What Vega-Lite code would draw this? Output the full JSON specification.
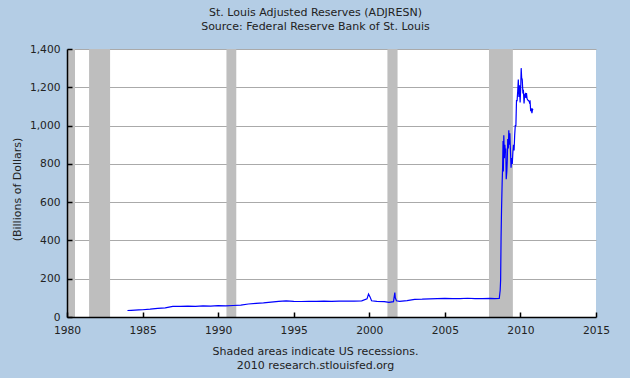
{
  "$schema": "https://vega.github.io/schema/vega-lite/v6.json",
  "width": 529,
  "height": 268,
  "autosize": {"type": "none"},
  "padding": {"left": 67, "top": 49, "right": 34, "bottom": 61},
  "background": "#B4CDE5",
  "config": {
    "view": {"fill": "white", "stroke": null},
    "font": "DejaVu Sans",
    "axis": {
      "labelFont": "DejaVu Sans",
      "labelFontSize": 10.7,
      "labelColor": "#222222",
      "titleFont": "DejaVu Sans",
      "titleFontSize": 11,
      "titleFontWeight": "normal",
      "titleColor": "#222222",
      "domainColor": "#000000",
      "domainWidth": 1.5,
      "tickColor": "#000000",
      "tickWidth": 1.5,
      "labelFlush": false
    }
  },
  "title": {
    "text": ["St. Louis Adjusted Reserves (ADJRESN)", "Source: Federal Reserve Bank of St. Louis"],
    "font": "DejaVu Sans",
    "fontSize": 11,
    "fontWeight": "normal",
    "color": "#222222",
    "lineHeight": 14,
    "anchor": "middle",
    "frame": "group",
    "dx": -16,
    "offset": 11
  },
  "datasets": {
    "recessions": [
      {"start": 1980.0, "end": 1980.53},
      {"start": 1981.46, "end": 1982.85},
      {"start": 1990.55, "end": 1991.2},
      {"start": 2001.2, "end": 2001.87},
      {"start": 2007.92, "end": 2009.5}
    ],
    "series": [
      {"year": 1984.0, "value": 34},
      {"year": 1984.25, "value": 35},
      {"year": 1984.5, "value": 36},
      {"year": 1984.75, "value": 37},
      {"year": 1985.0, "value": 38},
      {"year": 1985.5, "value": 41},
      {"year": 1986.0, "value": 45},
      {"year": 1986.5, "value": 48},
      {"year": 1986.75, "value": 52},
      {"year": 1987.0, "value": 55},
      {"year": 1987.5, "value": 55},
      {"year": 1988.0, "value": 57},
      {"year": 1988.5, "value": 56},
      {"year": 1989.0, "value": 58},
      {"year": 1989.5, "value": 57},
      {"year": 1990.0, "value": 59},
      {"year": 1990.5, "value": 58},
      {"year": 1991.0, "value": 60},
      {"year": 1991.5, "value": 62},
      {"year": 1992.0, "value": 68},
      {"year": 1992.5, "value": 71},
      {"year": 1993.0, "value": 74},
      {"year": 1993.5, "value": 78},
      {"year": 1994.0, "value": 82},
      {"year": 1994.5, "value": 84},
      {"year": 1995.0, "value": 82},
      {"year": 1995.5, "value": 81},
      {"year": 1996.0, "value": 82},
      {"year": 1996.5, "value": 82},
      {"year": 1997.0, "value": 83},
      {"year": 1997.5, "value": 82},
      {"year": 1998.0, "value": 83},
      {"year": 1998.5, "value": 83},
      {"year": 1999.0, "value": 83},
      {"year": 1999.5, "value": 84},
      {"year": 1999.85, "value": 95},
      {"year": 1999.95, "value": 120},
      {"year": 2000.05, "value": 105},
      {"year": 2000.15, "value": 85},
      {"year": 2000.5, "value": 82},
      {"year": 2001.0, "value": 80},
      {"year": 2001.3, "value": 76},
      {"year": 2001.6, "value": 80},
      {"year": 2001.69, "value": 128},
      {"year": 2001.72, "value": 100},
      {"year": 2001.8, "value": 85},
      {"year": 2002.0, "value": 82},
      {"year": 2002.5, "value": 86},
      {"year": 2003.0, "value": 92},
      {"year": 2003.5, "value": 93},
      {"year": 2004.0, "value": 95},
      {"year": 2004.5, "value": 96},
      {"year": 2005.0, "value": 97},
      {"year": 2005.5, "value": 96},
      {"year": 2006.0, "value": 96},
      {"year": 2006.5, "value": 98},
      {"year": 2007.0, "value": 96},
      {"year": 2007.5, "value": 96},
      {"year": 2008.0, "value": 97},
      {"year": 2008.3, "value": 96},
      {"year": 2008.6, "value": 97},
      {"year": 2008.66, "value": 140},
      {"year": 2008.69, "value": 193},
      {"year": 2008.72, "value": 420},
      {"year": 2008.75, "value": 560},
      {"year": 2008.79, "value": 700},
      {"year": 2008.82, "value": 780},
      {"year": 2008.85, "value": 920},
      {"year": 2008.87, "value": 760},
      {"year": 2008.9, "value": 950},
      {"year": 2008.94, "value": 830},
      {"year": 2008.97, "value": 900},
      {"year": 2009.0, "value": 860},
      {"year": 2009.03, "value": 880},
      {"year": 2009.06, "value": 720},
      {"year": 2009.1, "value": 760},
      {"year": 2009.13, "value": 820},
      {"year": 2009.16, "value": 930},
      {"year": 2009.2, "value": 880},
      {"year": 2009.23, "value": 975},
      {"year": 2009.27, "value": 900},
      {"year": 2009.3, "value": 960},
      {"year": 2009.34, "value": 870},
      {"year": 2009.38, "value": 780},
      {"year": 2009.42, "value": 830},
      {"year": 2009.46, "value": 800},
      {"year": 2009.5, "value": 860},
      {"year": 2009.54, "value": 900},
      {"year": 2009.58, "value": 870},
      {"year": 2009.62, "value": 950},
      {"year": 2009.66, "value": 1000},
      {"year": 2009.7, "value": 1000},
      {"year": 2009.74, "value": 1130},
      {"year": 2009.78, "value": 1130},
      {"year": 2009.82, "value": 1180},
      {"year": 2009.86, "value": 1240},
      {"year": 2009.9, "value": 1150},
      {"year": 2009.94, "value": 1210},
      {"year": 2009.98, "value": 1120},
      {"year": 2010.02, "value": 1200},
      {"year": 2010.05, "value": 1300},
      {"year": 2010.08, "value": 1250},
      {"year": 2010.12, "value": 1240},
      {"year": 2010.16, "value": 1175},
      {"year": 2010.2, "value": 1180},
      {"year": 2010.24, "value": 1115},
      {"year": 2010.28, "value": 1160},
      {"year": 2010.32, "value": 1165},
      {"year": 2010.36, "value": 1145},
      {"year": 2010.4, "value": 1170},
      {"year": 2010.44, "value": 1140},
      {"year": 2010.48, "value": 1135},
      {"year": 2010.52, "value": 1130},
      {"year": 2010.56, "value": 1130},
      {"year": 2010.6, "value": 1120},
      {"year": 2010.64, "value": 1125},
      {"year": 2010.68, "value": 1075},
      {"year": 2010.72, "value": 1090},
      {"year": 2010.76, "value": 1065},
      {"year": 2010.8, "value": 1085},
      {"year": 2010.84, "value": 1082}
    ]
  },
  "resolve": {"axis": {"y": "independent"}},
  "layer": [
    {
      "data": {"name": "recessions"},
      "mark": {"type": "rect", "color": "#BEBEBE"},
      "encoding": {
        "x": {
          "field": "start",
          "type": "quantitative",
          "scale": {"domain": [1980, 2015], "nice": false, "zero": false},
          "axis": {
            "values": [1980, 1985, 1990, 1995, 2000, 2005, 2010, 2015],
            "format": "d",
            "grid": false,
            "tickSize": -5,
            "labelPadding": 13,
            "zindex": 1,
            "title": ["Shaded areas indicate US recessions.", "2010 research.stlouisfed.org"],
            "titleX": 248,
            "titleY": 28,
            "titleBaseline": "top",
            "titleAlign": "center",
            "titleLineHeight": 14
          }
        },
        "x2": {"field": "end"},
        "y": {
          "datum": 0,
          "type": "quantitative",
          "scale": {"domain": [0, 1400], "nice": false},
          "axis": {
            "orient": "left",
            "grid": true,
            "gridColor": "#AAAAAA",
            "gridWidth": 1,
            "ticks": false,
            "labels": false,
            "domain": false,
            "title": null,
            "values": [200, 400, 600, 800, 1000, 1200, 1400],
            "zindex": 0
          }
        },
        "y2": {"datum": 1400}
      }
    },
    {
      "data": {"name": "series"},
      "mark": {"type": "line", "color": "#0000FF", "strokeWidth": 1.2},
      "encoding": {
        "x": {
          "field": "year",
          "type": "quantitative",
          "scale": {"domain": [1980, 2015], "nice": false, "zero": false}
        },
        "y": {
          "field": "value",
          "type": "quantitative",
          "scale": {"domain": [0, 1400], "nice": false},
          "axis": {
            "orient": "left",
            "values": [0, 200, 400, 600, 800, 1000, 1200, 1400],
            "format": ",d",
            "grid": false,
            "tickSize": -5,
            "labelPadding": 12,
            "zindex": 1,
            "title": "(Billions of Dollars)",
            "titleX": -50,
            "titleY": 140,
            "titleAngle": -90,
            "titleBaseline": "middle",
            "titleAlign": "center"
          }
        }
      }
    }
  ]
}
